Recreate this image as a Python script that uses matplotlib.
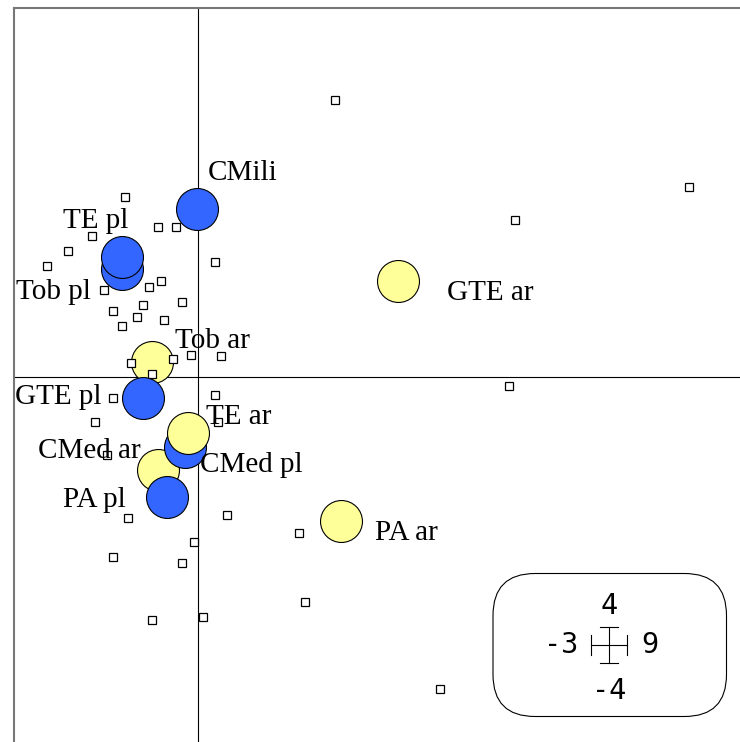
import matplotlib
matplotlib.use("Agg")
import matplotlib.pyplot as plt
from matplotlib.patches import FancyBboxPatch

# axis limits shown in the scale box
xlim = [-3, 9]
ylim = [-4, 4]

# row scores (small squares)
sq_x = [2.243, 8.028, 5.185, 5.087, -1.188, -0.649, -0.355, -1.727, -2.119, -2.462,
        0.283, -1.531, -0.600, -0.796, -0.257, -0.894, -1.384, -0.992, -0.551, -1.237,
        -1.090, -0.404, -0.109, 0.381, -0.747, -1.384, 0.283, -1.678, 0.332, -1.482,
        -1.139, 0.479, 1.655, -0.060, -1.384, -0.257, 1.753, -0.747, 0.087, 3.959]
sq_y = [2.995, 2.052, 1.695, -0.101, 1.947, 1.622, 1.622, 1.524, 1.362, 1.199,
        1.239, 0.939, 1.037, 0.972, 0.809, 0.777, 0.712, 0.647, 0.614, 0.549,
        0.148, 0.192, 0.235, 0.224, 0.029, -0.231, -0.198, -0.491, -0.491, -0.848,
        -1.531, -1.498, -1.693, -1.791, -1.953, -2.018, -2.441, -2.636, -2.604, -3.384]

# group centres (big circles), drawn in this order
labels = ["Tob pl", "TE pl", "CMili", "Tob ar", "GTE pl", "CMed ar", "PA pl",
          "CMed pl", "TE ar", "GTE ar", "PA ar"]
cx = [-1.237, -1.237, -0.007, -0.747, -0.894, -0.649, -0.502, -0.208, -0.154, 3.278, 2.338]
cy = [1.164, 1.300, 1.814, 0.159, -0.231, -1.010, -1.303, -0.758, -0.613, 1.037, -1.563]

# label offsets in pixels (left edge, baseline) from circle centre
lab_off = {"Tob pl": (-106, -30), "TE pl": (-59, 29), "CMili": (11, 29),
           "Tob ar": (23, 14), "GTE pl": (-128, -6), "CMed ar": (-120, 12),
           "PA pl": (-104, -10), "CMed pl": (15, -25), "TE ar": (18, 9),
           "GTE ar": (49, -19), "PA ar": (34, -19)}

blue = "#3366FF"
yellow = "#FFFF99"

W, H = 740, 742
fig = plt.figure(figsize=(W / 100, H / 100), dpi=100)
# frame is cropped on the right and bottom in the original
ax = fig.add_axes([14 / W, (H - 745.9) / H, 734.6 / W, 738.4 / H])
ax.set_xlim(xlim)
ax.set_ylim(ylim)
ax.set_xticks([])
ax.set_yticks([])
for s in ax.spines.values():
    s.set_color("#777777")
    s.set_linewidth(1.5)

ax.axhline(0, color="black", lw=0.8, zorder=1)
ax.axvline(0, color="black", lw=0.8, zorder=1)

for i, lab in enumerate(labels):
    col = yellow if lab.endswith("ar") else blue
    ax.plot(cx[i], cy[i], "o", ms=30.2, mfc=col, mec="black", mew=0.8, zorder=2 + i * 0.01)
    ax.annotate(lab, (cx[i], cy[i]), xytext=lab_off[lab], textcoords="offset pixels",
                ha="left", va="baseline", family="Liberation Serif", fontsize=21,
                zorder=5)

ax.plot(sq_x, sq_y, "s", ms=5.3, mfc="white", mec="black", mew=0.9, ls="none", zorder=4)

# scale box, drawn in pixel coordinates
lax = fig.add_axes([0, 0, 1, 1])
lax.set_xlim(0, W)
lax.set_ylim(H, 0)
lax.axis("off")
lax.add_patch(FancyBboxPatch((493, 573.5), 233.5, 143, boxstyle="round,pad=0,rounding_size=42",
                             fc="none", ec="black", lw=0.8))
ccx, ccy = 609.3, 645
lax.plot([ccx - 18, ccx + 18], [ccy, ccy], color="black", lw=0.8)
lax.plot([ccx, ccx], [ccy - 18, ccy + 18], color="black", lw=0.8)
lax.plot([ccx - 18, ccx - 18], [ccy - 10, ccy + 10], color="black", lw=0.8)
lax.plot([ccx + 18, ccx + 18], [ccy - 10, ccy + 10], color="black", lw=0.8)
lax.plot([ccx - 9, ccx + 9], [ccy - 18, ccy - 18], color="black", lw=0.8)
lax.plot([ccx - 9, ccx + 9], [ccy + 18, ccy + 18], color="black", lw=0.8)
mono = dict(family="DejaVu Sans Mono", fontsize=20.5)
lax.text(ccx, 606, str(ylim[1]), ha="center", va="center", **mono)
lax.text(ccx, 691, "-%d" % abs(ylim[0]), ha="center", va="center", **mono)
lax.text(578, ccy, "-%d" % abs(xlim[0]), ha="right", va="center", **mono)
lax.text(641, ccy, str(xlim[1]), ha="left", va="center", **mono)

fig.savefig("out.png", dpi=100)
